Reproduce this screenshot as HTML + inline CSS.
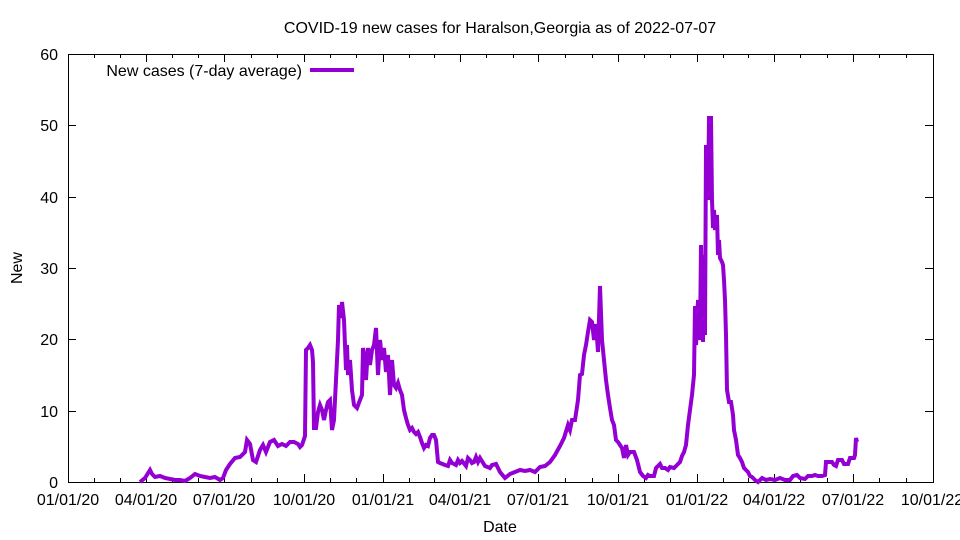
<!DOCTYPE html>
<html><head><style>body{margin:0;background:#fff}svg{display:block}text{font-family:"Liberation Sans",sans-serif;font-size:16px}</style></head>
<body>
<svg width="960" height="540" xmlns="http://www.w3.org/2000/svg">
<rect width="960" height="540" fill="#fff"/>
<text x="500" y="33" text-anchor="middle">COVID-19 new cases for Haralson,Georgia as of 2022-07-07</text>
<g stroke="#000" stroke-width="1" fill="none">
<rect x="68.5" y="54.5" width="865" height="428"/>
<path d="M68,482.5h8M925,482.5h8M68,411.5h8M925,411.5h8M68,339.5h8M925,339.5h8M68,268.5h8M925,268.5h8M68,197.5h8M925,197.5h8M68,125.5h8M925,125.5h8
M94.5,482v-4M94.5,54v4M120.5,482v-4M120.5,54v4M146.5,482v-8M146.5,54v8M172.5,482v-4M172.5,54v4M198.5,482v-4M198.5,54v4M224.5,482v-8M224.5,54v8
M251.5,482v-4M251.5,54v4M277.5,482v-4M277.5,54v4M304.5,482v-8M304.5,54v8M330.5,482v-4M330.5,54v4M356.5,482v-4M356.5,54v4M383.5,482v-8M383.5,54v8
M409.5,482v-4M409.5,54v4M434.5,482v-4M434.5,54v4M460.5,482v-8M460.5,54v8M486.5,482v-4M486.5,54v4M513.5,482v-4M513.5,54v4M538.5,482v-8M538.5,54v8
M565.5,482v-4M565.5,54v4M592.5,482v-4M592.5,54v4M618.5,482v-8M618.5,54v8M644.5,482v-4M644.5,54v4M670.5,482v-4M670.5,54v4M697.5,482v-8M697.5,54v8
M723.5,482v-4M723.5,54v4M748.5,482v-4M748.5,54v4M774.5,482v-8M774.5,54v8M800.5,482v-4M800.5,54v4M827.5,482v-4M827.5,54v4M853.5,482v-8M853.5,54v8
M879.5,482v-4M879.5,54v4M906.5,482v-4M906.5,54v4"/>
</g>
<g text-anchor="end">
<text x="58" y="488">0</text><text x="58" y="417">10</text><text x="58" y="345">20</text><text x="58" y="274">30</text><text x="58" y="203">40</text><text x="58" y="131">50</text><text x="58" y="60">60</text>
</g>
<g text-anchor="middle">
<text x="68" y="505">01/01/20</text><text x="146" y="505">04/01/20</text><text x="224" y="505">07/01/20</text><text x="304" y="505">10/01/20</text><text x="383" y="505">01/01/21</text><text x="460" y="505">04/01/21</text><text x="538" y="505">07/01/21</text><text x="618" y="505">10/01/21</text><text x="697" y="505">01/01/22</text><text x="774" y="505">04/01/22</text><text x="853" y="505">07/01/22</text><text x="932" y="505">10/01/22</text>
</g>
<text x="500" y="532" text-anchor="middle">Date</text>
<text x="22" y="268" text-anchor="middle" transform="rotate(-90 22 268)">New</text>
<text x="302" y="76" text-anchor="end">New cases (7-day average)</text>
<line x1="310" y1="70" x2="354" y2="70" stroke="#9400D3" stroke-width="4"/>
<polyline fill="none" stroke="#9400D3" stroke-width="4" stroke-linejoin="miter" points="140,482 145,478 150,470 152,474 155,477 160,476 165,478 170,479 175,480 180,480 185,481 190,478 195,474 200,476 205,477 210,478 215,477 220,480 223,478 226,470 230,464 235,458 240,457 245,452 247,440 250,444 253,460 256,462 260,450 263,445 266,452 270,442 274,440 278,446 282,444 286,446 290,442 294,442 298,444 300,447 302,445 305,436 306,350 308,348 310,345 312,350 313,362 314,428 316,428 318,412 320,405 322,410 324,420 326,410 328,402 330,400 332,430 334,420 336,380 338,340 339,305 341,318 342,302 344,320 346,370 347,345 348,375 350,360 352,390 354,405 357,408 360,400 362,395 363,348 365,360 366,380 368,348 370,365 372,350 374,345 376,328 378,375 380,340 382,360 384,348 386,372 388,355 390,395 392,360 394,385 396,388 398,383 400,390 402,395 404,410 406,418 408,425 410,430 412,428 414,432 416,434 418,432 420,437 422,443 424,448 426,445 428,446 430,438 432,435 434,435 436,440 438,462 440,463 445,465 448,466 450,460 452,463 454,464 456,465 458,460 460,463 462,461 466,466 468,458 470,460 472,463 474,462 476,457 478,462 480,458 485,466 490,468 492,465 496,464 500,472 505,478 510,474 515,472 520,470 525,471 530,470 535,472 540,467 545,466 550,462 555,455 560,446 564,438 568,425 570,430 572,420 575,420 578,400 580,375 582,374 584,355 586,345 588,332 590,320 592,322 594,340 596,324 598,352 600,286 602,340 604,360 606,380 608,395 610,408 612,420 614,425 616,440 618,442 620,445 622,448 624,458 626,445 628,455 630,452 634,452 637,460 640,472 643,476 646,478 648,475 650,476 654,476 656,468 660,464 662,468 665,468 668,470 670,467 674,468 678,464 680,462 682,456 684,452 686,445 688,425 690,410 692,395 694,375 695,306 696,345 698,300 700,340 701,245 703,342 704,255 705,335 706,145 708,200 709,118 711,118 712,200 713,228 714,210 715,230 717,215 718,255 719,240 720,258 722,262 723,265 724,280 725,300 726,335 727,390 729,402 731,402 733,415 734,430 736,440 738,455 740,458 742,462 744,468 746,470 748,472 750,476 752,477 755,480 758,482 762,478 766,480 770,479 775,480 780,478 785,480 790,480 793,476 797,475 800,478 805,479 808,476 812,476 815,475 818,476 822,476 825,475 826,462 832,462 834,465 836,466 838,460 842,460 844,464 848,464 850,458 854,458 855,455 856,438 857,442"/>
</svg>
</body></html>
